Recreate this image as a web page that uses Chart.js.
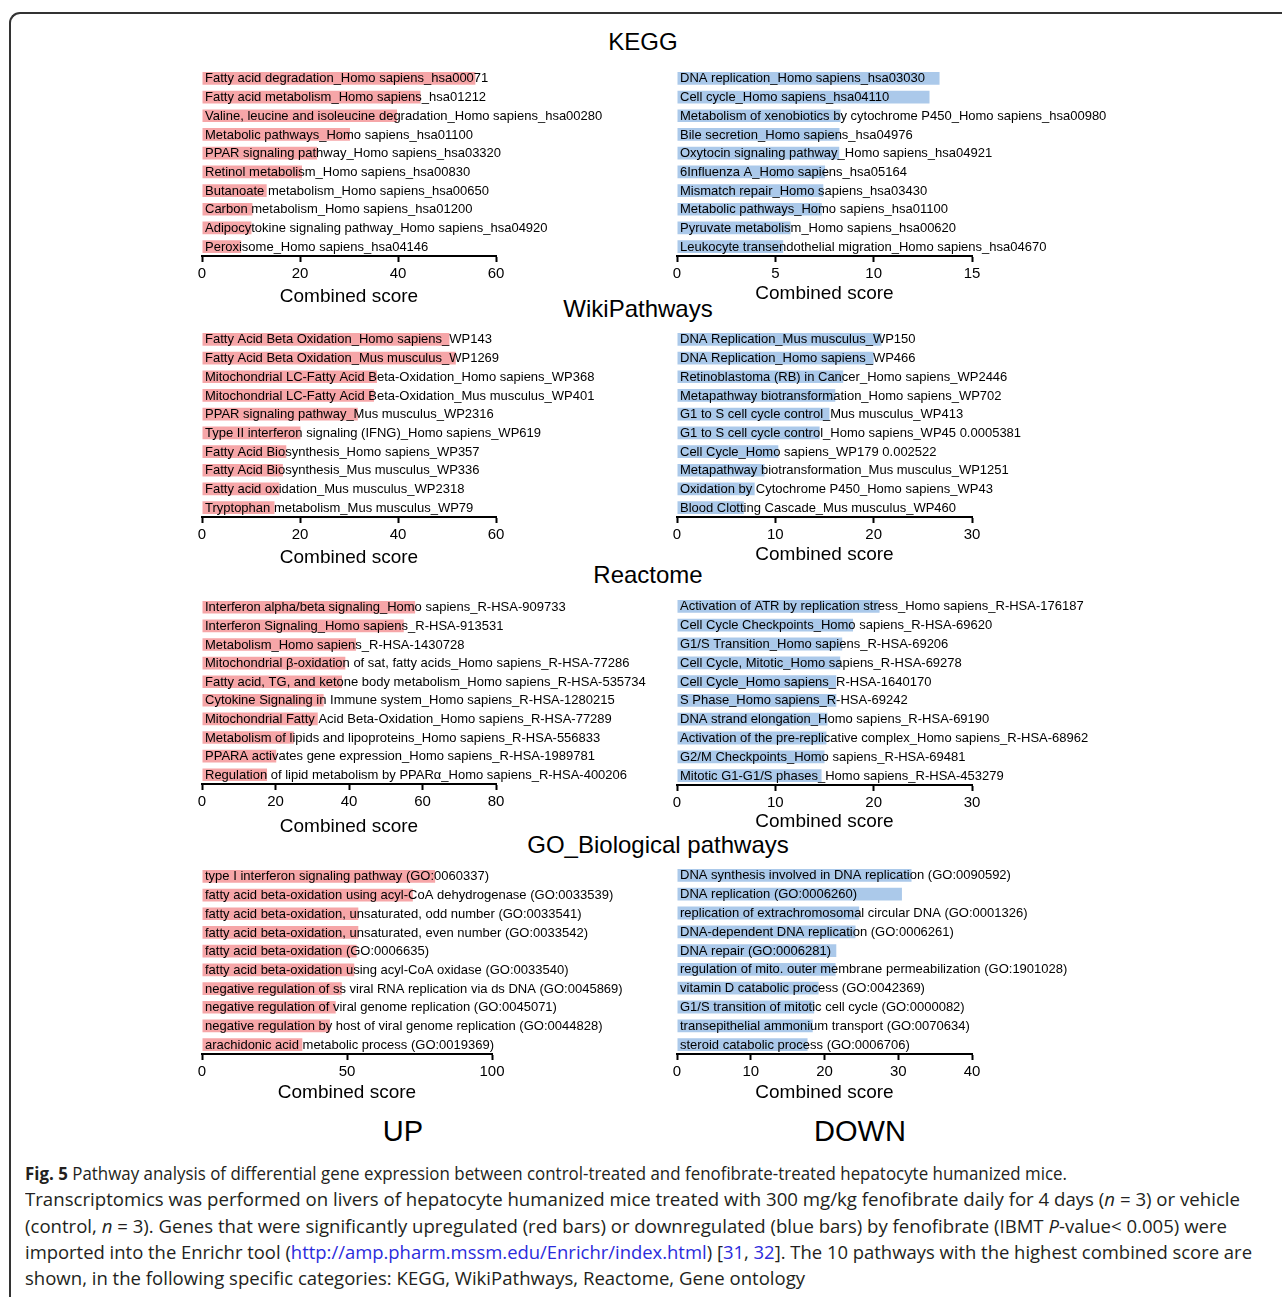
<!DOCTYPE html>
<html>
<head>
<meta charset="utf-8">
<script src="https://cdn.jsdelivr.net/npm/chart.js@4.4.1/dist/chart.umd.min.js"></script>
<style>
  body { margin: 0; background: #fff; width: 1282px; height: 1297px; overflow: hidden; position: relative; font-family: "Liberation Sans", Arial, sans-serif; }
  .frame { position: absolute; left: 9px; top: 12px; width: 1400px; height: 1400px; border-left: 2px solid #333; border-top: 2px solid #333; border-top-left-radius: 11px; }
  .ttl { position: absolute; transform: translate(-50%, -50%); white-space: nowrap; color: #000; }
  canvas { position: absolute; }
  .cap { position: absolute; left: 25px; top: 1160px; font-family: "Open Sans", "Noto Sans", sans-serif; font-size: 18px; color: #231f20; }
  .cap div { white-space: nowrap; height: 26.3px; line-height: 26.3px; transform-origin: 0 0; width: max-content; }
  .cap a { color: #2b2bdc; text-decoration: none; }
</style>
</head>
<body>
<div class="frame"></div>

<div class="ttl" style="left:643px;top:42px;font-size:24px">KEGG</div>
<div class="ttl" style="left:638px;top:309px;font-size:24px">WikiPathways</div>
<div class="ttl" style="left:648px;top:575px;font-size:24px">Reactome</div>
<div class="ttl" style="left:658px;top:845px;font-size:24px">GO_Biological pathways</div>
<div class="ttl" style="left:403px;top:1131px;font-size:29px">UP</div>
<div class="ttl" style="left:860px;top:1131px;font-size:29px">DOWN</div>

<canvas id="keggUp"></canvas>
<canvas id="keggDown"></canvas>
<canvas id="wikiUp"></canvas>
<canvas id="wikiDown"></canvas>
<canvas id="reactUp"></canvas>
<canvas id="reactDown"></canvas>
<canvas id="goUp"></canvas>
<canvas id="goDown"></canvas>

<div class="cap" id="cap">
  <div data-w="1042"><b>Fig. 5</b> Pathway analysis of differential gene expression between control-treated and fenofibrate-treated hepatocyte humanized mice.</div>
  <div data-w="1215">Transcriptomics was performed on livers of hepatocyte humanized mice treated with 300 mg/kg fenofibrate daily for 4 days (<i>n</i> = 3) or vehicle</div>
  <div data-w="1202">(control, <i>n</i> = 3). Genes that were significantly upregulated (red bars) or downregulated (blue bars) by fenofibrate (IBMT <i>P</i>-value&lt; 0.005) were</div>
  <div data-w="1227">imported into the Enrichr tool (<a>http://amp.pharm.mssm.edu/Enrichr/index.html</a>) [<a>31</a>, <a>32</a>]. The 10 pathways with the highest combined score are</div>
  <div data-w="780">shown, in the following specific categories: KEGG, WikiPathways, Reactome, Gene ontology</div>
</div>

<script>
// KEGG
const keggUpLabels = [
  "Fatty acid degradation_Homo sapiens_hsa00071",
  "Fatty acid metabolism_Homo sapiens_hsa01212",
  "Valine, leucine and isoleucine degradation_Homo sapiens_hsa00280",
  "Metabolic pathways_Homo sapiens_hsa01100",
  "PPAR signaling pathway_Homo sapiens_hsa03320",
  "Retinol metabolism_Homo sapiens_hsa00830",
  "Butanoate metabolism_Homo sapiens_hsa00650",
  "Carbon metabolism_Homo sapiens_hsa01200",
  "Adipocytokine signaling pathway_Homo sapiens_hsa04920",
  "Peroxisome_Homo sapiens_hsa04146"
];
const keggUpScores = [55.8, 44.6, 39.8, 30.2, 23.5, 20.4, 13.2, 10.3, 10.1, 8.0];

const keggDownLabels = [
  "DNA replication_Homo sapiens_hsa03030",
  "Cell cycle_Homo sapiens_hsa04110",
  "Metabolism of xenobiotics by cytochrome P450_Homo sapiens_hsa00980",
  "Bile secretion_Homo sapiens_hsa04976",
  "Oxytocin signaling pathway_Homo sapiens_hsa04921",
  "6Influenza A_Homo sapiens_hsa05164",
  "Mismatch repair_Homo sapiens_hsa03430",
  "Metabolic pathways_Homo sapiens_hsa01100",
  "Pyruvate metabolism_Homo sapiens_hsa00620",
  "Leukocyte transendothelial migration_Homo sapiens_hsa04670"
];
const keggDownScores = [13.35, 12.84, 8.32, 8.26, 8.25, 7.53, 7.44, 7.36, 5.78, 5.40];

// WikiPathways
const wikiUpLabels = [
  "Fatty Acid Beta Oxidation_Homo sapiens_WP143",
  "Fatty Acid Beta Oxidation_Mus musculus_WP1269",
  "Mitochondrial LC-Fatty Acid Beta-Oxidation_Homo sapiens_WP368",
  "Mitochondrial LC-Fatty Acid Beta-Oxidation_Mus musculus_WP401",
  "PPAR signaling pathway_Mus musculus_WP2316",
  "Type II interferon signaling (IFNG)_Homo sapiens_WP619",
  "Fatty Acid Biosynthesis_Homo sapiens_WP357",
  "Fatty Acid Biosynthesis_Mus musculus_WP336",
  "Fatty acid oxidation_Mus musculus_WP2318",
  "Tryptophan metabolism_Mus musculus_WP79"
];
const wikiUpScores = [50.5, 51.8, 35.7, 35.1, 31.8, 20.1, 17.2, 16.5, 15.8, 14.8];

const wikiDownLabels = [
  "DNA Replication_Mus musculus_WP150",
  "DNA Replication_Homo sapiens_WP466",
  "Retinoblastoma (RB) in Cancer_Homo sapiens_WP2446",
  "Metapathway biotransformation_Homo sapiens_WP702",
  "G1 to S cell cycle control_Mus musculus_WP413",
  "G1 to S cell cycle control_Homo sapiens_WP45 0.0005381",
  "Cell Cycle_Homo sapiens_WP179 0.002522",
  "Metapathway biotransformation_Mus musculus_WP1251",
  "Oxidation by Cytochrome P450_Homo sapiens_WP43",
  "Blood Clotting Cascade_Mus musculus_WP460"
];
const wikiDownScores = [20.8, 20.0, 16.9, 16.1, 15.5, 14.5, 10.3, 8.9, 7.9, 6.8];

// Reactome
const reactUpLabels = [
  "Interferon alpha/beta signaling_Homo sapiens_R-HSA-909733",
  "Interferon Signaling_Homo sapiens_R-HSA-913531",
  "Metabolism_Homo sapiens_R-HSA-1430728",
  "Mitochondrial \u03b2-oxidation of sat, fatty acids_Homo sapiens_R-HSA-77286",
  "Fatty acid, TG, and ketone body metabolism_Homo sapiens_R-HSA-535734",
  "Cytokine Signaling in Immune system_Homo sapiens_R-HSA-1280215",
  "Mitochondrial Fatty Acid Beta-Oxidation_Homo sapiens_R-HSA-77289",
  "Metabolism of lipids and lipoproteins_Homo sapiens_R-HSA-556833",
  "PPARA activates gene expression_Homo sapiens_R-HSA-1989781",
  "Regulation of lipid metabolism by PPAR\u03b1_Homo sapiens_R-HSA-400206"
];
const reactUpScores = [58.0, 54.9, 41.9, 39.0, 38.1, 33.1, 31.5, 25.0, 20.2, 17.7];

const reactDownLabels = [
  "Activation of ATR by replication stress_Homo sapiens_R-HSA-176187",
  "Cell Cycle Checkpoints_Homo sapiens_R-HSA-69620",
  "G1/S Transition_Homo sapiens_R-HSA-69206",
  "Cell Cycle, Mitotic_Homo sapiens_R-HSA-69278",
  "Cell Cycle_Homo sapiens_R-HSA-1640170",
  "S Phase_Homo sapiens_R-HSA-69242",
  "DNA strand elongation_Homo sapiens_R-HSA-69190",
  "Activation of the pre-replicative complex_Homo sapiens_R-HSA-68962",
  "G2/M Checkpoints_Homo sapiens_R-HSA-69481",
  "Mitotic G1-G1/S phases_Homo sapiens_R-HSA-453279"
];
const reactDownScores = [20.6, 17.9, 16.8, 16.6, 16.2, 16.2, 15.3, 15.2, 15.0, 14.7];

// GO Biological pathways
const goUpLabels = [
  "type I interferon signaling pathway (GO:0060337)",
  "fatty acid beta-oxidation using acyl-CoA dehydrogenase (GO:0033539)",
  "fatty acid beta-oxidation, unsaturated, odd number (GO:0033541)",
  "fatty acid beta-oxidation, unsaturated, even number (GO:0033542)",
  "fatty acid beta-oxidation (GO:0006635)",
  "fatty acid beta-oxidation using acyl-CoA oxidase (GO:0033540)",
  "negative regulation of ss viral RNA replication via ds DNA (GO:0045869)",
  "negative regulation of viral genome replication (GO:0045071)",
  "negative regulation by host of viral genome replication (GO:0044828)",
  "arachidonic acid metabolic process (GO:0019369)"
];
const goUpScores = [80.4, 72.7, 53.9, 53.9, 53.3, 52.5, 48.2, 46.1, 44.1, 34.6];

const goDownLabels = [
  "DNA synthesis involved in DNA replication (GO:0090592)",
  "DNA replication (GO:0006260)",
  "replication of extrachromosomal circular DNA (GO:0001326)",
  "DNA-dependent DNA replication (GO:0006261)",
  "DNA repair (GO:0006281)",
  "regulation of mito. outer membrane permeabilization (GO:1901028)",
  "vitamin D catabolic process (GO:0042369)",
  "G1/S transition of mitotic cell cycle (GO:0000082)",
  "transepithelial ammonium transport (GO:0070634)",
  "steroid catabolic process (GO:0006706)"
];
const goDownScores = [31.8, 30.5, 24.7, 24.2, 21.6, 21.5, 19.2, 18.6, 18.4, 17.7];

// axis ranges (max, step)
const keggUpAxis = [60, 20], keggDownAxis = [15, 5];
const wikiUpAxis = [60, 20], wikiDownAxis = [30, 10];
const reactUpAxis = [80, 20], reactDownAxis = [30, 10];
const goUpAxis = [100, 50], goDownAxis = [40, 10];

const UP_COLOR = "#f6a6a8";
const DOWN_COLOR = "#abc9ea";
const FONT = "'Liberation Sans', Arial, sans-serif";

// draws each category name at the start of its bar, over the bar
const barText = {
  id: "barText",
  afterDatasetsDraw(chart) {
    const ctx = chart.ctx;
    const meta = chart.getDatasetMeta(0);
    ctx.save();
    ctx.font = "13px " + FONT;
    ctx.fillStyle = "#000";
    ctx.textBaseline = "middle";
    ctx.textAlign = "left";
    meta.data.forEach((bar, i) => {
      ctx.fillText(chart.data.labels[i], chart.chartArea.left + 3, bar.y + 0.5);
    });
    ctx.restore();
  }
};

function makeChart(id, labels, scores, axis, color, box) {
  const el = document.getElementById(id);
  el.style.left = box.left + "px";
  el.style.top = box.top + "px";
  el.width = box.width;
  el.height = box.height;
  el.style.width = box.width + "px";
  el.style.height = box.height + "px";
  new Chart(el, {
    type: "bar",
    data: {
      labels: labels,
      datasets: [{ data: scores, backgroundColor: color, barPercentage: 0.68, categoryPercentage: 1 }]
    },
    options: {
      indexAxis: "y",
      responsive: false,
      animation: false,
      layout: { padding: { left: 12, right: box.width - 12 - box.axisWidth, top: 9, bottom: 0 } },
      plugins: { legend: { display: false }, tooltip: { enabled: false } },
      scales: {
        y: { display: false },
        x: {
          min: 0,
          max: axis[0],
          border: { display: true, color: "#000", width: 2 },
          grid: { drawOnChartArea: false, drawTicks: true, tickLength: 6, tickColor: "#000", tickWidth: 2 },
          ticks: { stepSize: axis[1], color: "#000", font: { family: FONT, size: 15 }, padding: 3, maxRotation: 0 },
          title: { display: true, text: "Combined score", color: "#000", font: { family: FONT, size: 19, lineHeight: 1 }, padding: { top: box.titlePad, bottom: 4 } }
        }
      }
    },
    plugins: [barText]
  });
}

makeChart("keggUp", keggUpLabels, keggUpScores, keggUpAxis, UP_COLOR, { left: 190, top: 60, width: 470, height: 250, axisWidth: 294, titlePad: 1 });
makeChart("keggDown", keggDownLabels, keggDownScores, keggDownAxis, DOWN_COLOR, { left: 665, top: 60, width: 600, height: 247, axisWidth: 295, titlePad: -2 });
makeChart("wikiUp", wikiUpLabels, wikiUpScores, wikiUpAxis, UP_COLOR, { left: 190, top: 321, width: 470, height: 250, axisWidth: 294, titlePad: 1 });
makeChart("wikiDown", wikiDownLabels, wikiDownScores, wikiDownAxis, DOWN_COLOR, { left: 665, top: 321, width: 600, height: 247, axisWidth: 295, titlePad: -2 });
makeChart("reactUp", reactUpLabels, reactUpScores, reactUpAxis, UP_COLOR, { left: 190, top: 589, width: 470, height: 251, axisWidth: 294, titlePad: 3 });
makeChart("reactDown", reactDownLabels, reactDownScores, reactDownAxis, DOWN_COLOR, { left: 665, top: 588, width: 600, height: 247, axisWidth: 295, titlePad: -3 });
makeChart("goUp", goUpLabels, goUpScores, goUpAxis, UP_COLOR, { left: 190, top: 858, width: 470, height: 248, axisWidth: 290, titlePad: -1 });
makeChart("goDown", goDownLabels, goDownScores, goDownAxis, DOWN_COLOR, { left: 665, top: 857, width: 600, height: 249, axisWidth: 295, titlePad: -1 });

// fit each caption line to the reference line width
Array.from(document.getElementById("cap").children).forEach((line) => {
  const w = line.getBoundingClientRect().width;
  line.style.transform = "scaleX(" + (Number(line.dataset.w) / w) + ")";
});
</script>
</body>
</html>
